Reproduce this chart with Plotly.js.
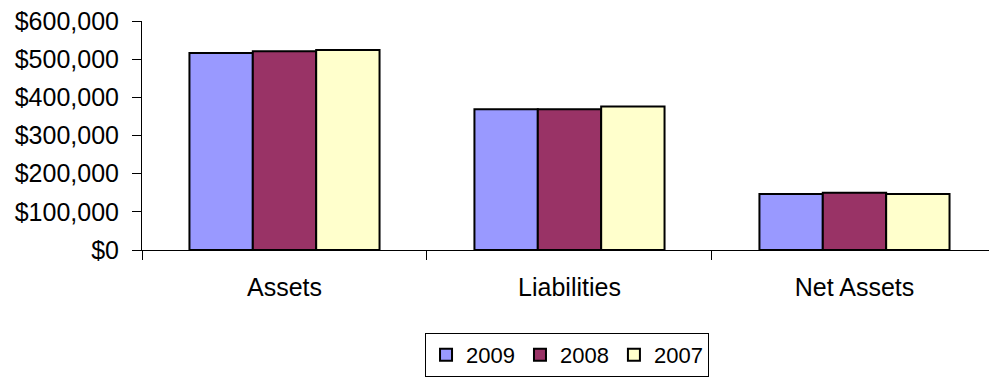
<!DOCTYPE html>
<html>
<head>
<meta charset="utf-8">
<script src="https://cdn.plot.ly/plotly-3.0.1.min.js"></script>
<style>
  html, body { margin: 0; padding: 0; background: #ffffff; }
  #chart { width: 989px; height: 377px; }
</style>
</head>
<body>
<div id="chart"></div>
<script>
// Balance sheet totals by year
const categories = ['Assets', 'Liabilities', 'Net Assets'];
const years = ['2009', '2008', '2007'];
const values2009 = [516000, 369000, 147000];
const values2008 = [521000, 369000, 150000];
const values2007 = [524000, 376000, 147000];

// interior value gridlines (none drawn along the top edge)
const gridValues = [100000, 200000, 300000, 400000, 500000];

const seriesValues = [values2009, values2008, values2007];
const seriesColors = ['#9999FF', '#993366', '#FFFFCC'];

const traces = years.map((yr, i) => ({
  type: 'bar',
  name: yr,
  x: categories,
  y: seriesValues[i],
  marker: { color: seriesColors[i], line: { color: '#000000', width: 2 } },
  hoverinfo: 'x+y+name'
}));

const font = 'Liberation Sans, Arial, sans-serif';

const layout = {
  width: 989,
  height: 377,
  margin: { l: 142, r: 0, t: 21, b: 127 },
  paper_bgcolor: '#ffffff',
  plot_bgcolor: '#ffffff',
  barmode: 'group',
  bargap: 0.333,
  bargroupgap: 0,
  font: { family: font, color: '#000000', size: 25 },
  xaxis: {
    type: 'category',
    range: [-0.5, 2.472],
    showline: true,
    linecolor: '#000000',
    linewidth: 1,
    ticks: 'outside',
    tickson: 'boundaries',
    ticklen: 9,
    tickcolor: '#000000',
    showgrid: false,
    tickfont: { family: font, size: 25, color: '#000000' },
    ticklabelstandoff: 15,
    fixedrange: true
  },
  yaxis: {
    range: [0, 600000],
    dtick: 100000,
    tickprefix: '$',
    tickformat: ',.0f',
    showline: true,
    linecolor: '#000000',
    linewidth: 1,
    ticks: 'outside',
    ticklen: 9,
    tickcolor: '#000000',
    showgrid: false,
    zeroline: false,
    tickfont: { family: font, size: 25, color: '#000000' },
    ticklabelstandoff: 8,
    fixedrange: true
  },
  yaxis2: {
    overlaying: 'y',
    anchor: 'x',
    side: 'left',
    range: [0, 600000],
    tickmode: 'array',
    tickvals: gridValues,
    showticklabels: false,
    ticks: '',
    showline: false,
    showgrid: true,
    gridcolor: '#808080',
    gridwidth: 1,
    zeroline: false,
    fixedrange: true
  },
  showlegend: true,
  legend: {
    orientation: 'h',
    x: 0.5018,
    xanchor: 'center',
    y: -0.362,
    yanchor: 'top',
    bgcolor: '#ffffff',
    bordercolor: '#000000',
    borderwidth: 1,
    font: { family: font, size: 22, color: '#000000' },
    traceorder: 'normal'
  }
};

Plotly.newPlot('chart', traces, layout, { displayModeBar: false, staticPlot: true });
</script>
</body>
</html>
